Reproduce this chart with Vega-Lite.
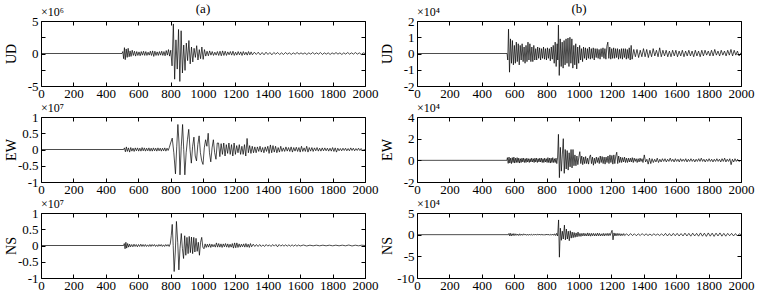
{
"$schema":"https://vega.github.io/schema/vega-lite/v6.json",
"background":"white",
"padding":{"left":4,"top":3,"right":5,"bottom":2},
"config":{
"font":"Liberation Serif",
"view":{"stroke":null},
"axis":{"domainColor":"#000","domainWidth":1,"tickColor":"#000","tickSize":-4,"tickWidth":1,"labelColor":"#000","labelFont":"Liberation Serif","labelFontSize":13,"titleFont":"Liberation Serif","titleFontSize":14,"titleFontWeight":"normal","titleColor":"#000","grid":false,"labelFlush":false,"labelOverlap":false,"labelBound":false,"labelPadding":7},
"axisX":{"labelPadding":5},
"title":{"font":"Liberation Serif","fontWeight":"normal","fontSize":13,"color":"#000"},
"line":{"color":"#000","strokeWidth":0.7},
"text":{"font":"Liberation Serif","fontSize":12,"color":"#000"}
},
"datasets":{
"ua":[{"t":0,"v":0},{"t":500,"v":0},{"t":505,"v":0.3},{"t":510,"v":-0.8},{"t":515,"v":0.9},{"t":520,"v":-0.95},{"t":526,"v":0.7},{"t":532,"v":-0.6},{"t":538,"v":0.8},{"t":544,"v":-0.5},{"t":550,"v":0.4},{"t":556,"v":-0.45},{"t":563,"v":0.5},{"t":570,"v":-0.3},{"t":577,"v":0.35},{"t":584,"v":-0.4},{"t":591,"v":0.3},{"t":598,"v":-0.3},{"t":605,"v":0.25},{"t":612,"v":-0.35},{"t":619,"v":0.3},{"t":626,"v":-0.25},{"t":633,"v":0.35},{"t":640,"v":-0.3},{"t":647,"v":0.3},{"t":654,"v":-0.3},{"t":661,"v":0.2},{"t":668,"v":-0.25},{"t":675,"v":0.35},{"t":682,"v":-0.3},{"t":689,"v":0.4},{"t":696,"v":-0.45},{"t":703,"v":0.35},{"t":710,"v":-0.3},{"t":717,"v":0.25},{"t":724,"v":-0.3},{"t":731,"v":0.3},{"t":738,"v":-0.25},{"t":745,"v":0.35},{"t":752,"v":-0.3},{"t":759,"v":0.3},{"t":766,"v":-0.35},{"t":773,"v":0.45},{"t":780,"v":-0.25},{"t":787,"v":0.6},{"t":794,"v":-0.4},{"t":801,"v":0.5},{"t":809,"v":-1.9},{"t":817,"v":4.55},{"t":825,"v":-3.95},{"t":833,"v":2.1},{"t":841,"v":-2.4},{"t":849,"v":3.7},{"t":857,"v":-4.3},{"t":865,"v":3.5},{"t":873,"v":-3.0},{"t":881,"v":1.3},{"t":889,"v":-2.6},{"t":897,"v":1.6},{"t":905,"v":-1.1},{"t":913,"v":2.0},{"t":921,"v":-1.6},{"t":929,"v":1.0},{"t":937,"v":-1.3},{"t":945,"v":0.8},{"t":953,"v":-0.6},{"t":961,"v":1.2},{"t":969,"v":-1.0},{"t":977,"v":0.6},{"t":985,"v":-0.8},{"t":993,"v":1.0},{"t":1001,"v":-0.9},{"t":1009,"v":0.6},{"t":1017,"v":-0.4},{"t":1025,"v":0.35},{"t":1033,"v":-0.35},{"t":1041,"v":0.4},{"t":1049,"v":-0.25},{"t":1057,"v":0.3},{"t":1065,"v":-0.3},{"t":1073,"v":0.2},{"t":1081,"v":-0.25},{"t":1089,"v":0.3},{"t":1097,"v":-0.3},{"t":1105,"v":0.35},{"t":1113,"v":-0.35},{"t":1121,"v":0.4},{"t":1129,"v":-0.3},{"t":1137,"v":0.35},{"t":1145,"v":-0.3},{"t":1153,"v":0.25},{"t":1161,"v":-0.2},{"t":1169,"v":0.3},{"t":1177,"v":-0.25},{"t":1185,"v":0.35},{"t":1193,"v":-0.3},{"t":1201,"v":0.2},{"t":1209,"v":-0.25},{"t":1217,"v":0.3},{"t":1225,"v":-0.2},{"t":1233,"v":0.25},{"t":1241,"v":-0.3},{"t":1249,"v":0.3},{"t":1257,"v":-0.2},{"t":1265,"v":0.2},{"t":1273,"v":-0.25},{"t":1281,"v":0.3},{"t":1289,"v":-0.2},{"t":1297,"v":0.25},{"t":1305,"v":-0.2},{"t":1317,"v":0.2},{"t":1329,"v":-0.15},{"t":1341,"v":0.2},{"t":1353,"v":-0.2},{"t":1365,"v":0.15},{"t":1377,"v":-0.2},{"t":1389,"v":0.2},{"t":1401,"v":-0.15},{"t":1413,"v":0.15},{"t":1425,"v":-0.2},{"t":1437,"v":0.15},{"t":1449,"v":-0.1},{"t":1461,"v":0.15},{"t":1473,"v":-0.15},{"t":1485,"v":0.1},{"t":1497,"v":-0.15},{"t":1509,"v":0.15},{"t":1521,"v":-0.1},{"t":1533,"v":0.1},{"t":1545,"v":-0.15},{"t":1557,"v":0.1},{"t":1569,"v":-0.1},{"t":1581,"v":0.15},{"t":1593,"v":-0.1},{"t":1605,"v":0.1},{"t":1617,"v":-0.1},{"t":1629,"v":0.1},{"t":1641,"v":-0.15},{"t":1653,"v":0.1},{"t":1665,"v":-0.1},{"t":1677,"v":0.15},{"t":1689,"v":-0.1},{"t":1701,"v":0.1},{"t":1713,"v":-0.1},{"t":1725,"v":0.15},{"t":1737,"v":-0.15},{"t":1749,"v":0.1},{"t":1761,"v":-0.1},{"t":1773,"v":0.1},{"t":1785,"v":-0.15},{"t":1797,"v":0.1},{"t":1809,"v":-0.1},{"t":1821,"v":0.15},{"t":1833,"v":-0.1},{"t":1845,"v":0.1},{"t":1857,"v":-0.15},{"t":1869,"v":0.1},{"t":1881,"v":-0.1},{"t":1893,"v":0.15},{"t":1905,"v":-0.1},{"t":1917,"v":0.1},{"t":1929,"v":-0.1},{"t":1941,"v":0.15},{"t":1953,"v":-0.1},{"t":1965,"v":0.1},{"t":1977,"v":-0.15},{"t":1989,"v":0.1},{"t":2000,"v":0}],
"ub":[{"t":0,"v":0},{"t":556,"v":0},{"t":560,"v":-0.4},{"t":565,"v":1.5},{"t":571,"v":-1.15},{"t":577,"v":0.9},{"t":583,"v":-0.6},{"t":589,"v":0.8},{"t":595,"v":-0.7},{"t":601,"v":0.5},{"t":607,"v":-0.6},{"t":613,"v":0.7},{"t":619,"v":-0.5},{"t":625,"v":0.6},{"t":631,"v":-0.7},{"t":637,"v":0.5},{"t":643,"v":-0.4},{"t":649,"v":0.6},{"t":655,"v":-0.5},{"t":661,"v":0.4},{"t":667,"v":-0.6},{"t":673,"v":0.5},{"t":679,"v":-0.5},{"t":685,"v":0.7},{"t":691,"v":-0.4},{"t":697,"v":0.6},{"t":703,"v":-0.5},{"t":709,"v":0.4},{"t":715,"v":-0.5},{"t":721,"v":0.5},{"t":727,"v":-0.4},{"t":733,"v":0.3},{"t":739,"v":-0.4},{"t":745,"v":0.4},{"t":751,"v":-0.3},{"t":757,"v":0.35},{"t":763,"v":-0.4},{"t":769,"v":0.3},{"t":775,"v":-0.3},{"t":781,"v":0.4},{"t":787,"v":-0.35},{"t":793,"v":0.3},{"t":799,"v":-0.4},{"t":805,"v":0.35},{"t":811,"v":-0.3},{"t":817,"v":0.3},{"t":823,"v":-0.45},{"t":829,"v":0.4},{"t":835,"v":-0.35},{"t":841,"v":0.5},{"t":847,"v":-0.6},{"t":853,"v":0.7},{"t":859,"v":-0.8},{"t":865,"v":0.6},{"t":869,"v":-0.4},{"t":873,"v":1.75},{"t":878,"v":-1.35},{"t":884,"v":0.9},{"t":890,"v":-0.8},{"t":896,"v":0.7},{"t":902,"v":-0.9},{"t":908,"v":0.8},{"t":914,"v":-0.7},{"t":920,"v":0.9},{"t":926,"v":-0.6},{"t":932,"v":0.95},{"t":938,"v":-0.8},{"t":944,"v":1.0},{"t":950,"v":-0.6},{"t":956,"v":0.9},{"t":962,"v":-0.9},{"t":968,"v":0.5},{"t":974,"v":-0.7},{"t":980,"v":0.6},{"t":986,"v":-0.95},{"t":992,"v":0.4},{"t":998,"v":-0.6},{"t":1004,"v":0.5},{"t":1010,"v":-0.4},{"t":1016,"v":0.3},{"t":1022,"v":-0.5},{"t":1028,"v":0.4},{"t":1034,"v":-0.3},{"t":1040,"v":0.35},{"t":1046,"v":-0.4},{"t":1052,"v":0.3},{"t":1058,"v":-0.3},{"t":1064,"v":0.4},{"t":1070,"v":-0.35},{"t":1076,"v":0.3},{"t":1082,"v":-0.3},{"t":1088,"v":0.35},{"t":1094,"v":-0.4},{"t":1100,"v":0.3},{"t":1106,"v":-0.25},{"t":1112,"v":0.3},{"t":1118,"v":-0.3},{"t":1124,"v":0.25},{"t":1130,"v":-0.35},{"t":1136,"v":0.3},{"t":1142,"v":-0.2},{"t":1148,"v":0.35},{"t":1154,"v":-0.3},{"t":1160,"v":0.3},{"t":1166,"v":-0.35},{"t":1172,"v":0.45},{"t":1178,"v":0.7},{"t":1184,"v":-0.3},{"t":1190,"v":0.4},{"t":1196,"v":-0.35},{"t":1202,"v":0.3},{"t":1208,"v":-0.3},{"t":1214,"v":0.35},{"t":1220,"v":-0.3},{"t":1226,"v":0.3},{"t":1232,"v":-0.25},{"t":1238,"v":0.3},{"t":1244,"v":-0.35},{"t":1250,"v":0.25},{"t":1256,"v":-0.3},{"t":1262,"v":0.3},{"t":1268,"v":-0.35},{"t":1274,"v":0.3},{"t":1280,"v":-0.25},{"t":1286,"v":0.3},{"t":1292,"v":-0.35},{"t":1298,"v":0.25},{"t":1304,"v":-0.3},{"t":1310,"v":0.35},{"t":1316,"v":-0.4},{"t":1322,"v":0.5},{"t":1328,"v":-0.35},{"t":1338,"v":0.25},{"t":1348,"v":-0.2},{"t":1358,"v":0.25},{"t":1368,"v":-0.25},{"t":1378,"v":0.2},{"t":1388,"v":-0.2},{"t":1398,"v":0.3},{"t":1408,"v":-0.2},{"t":1418,"v":0.25},{"t":1428,"v":-0.25},{"t":1438,"v":0.2},{"t":1448,"v":-0.2},{"t":1458,"v":0.3},{"t":1468,"v":-0.15},{"t":1478,"v":0.2},{"t":1488,"v":-0.2},{"t":1498,"v":0.35},{"t":1508,"v":-0.2},{"t":1518,"v":0.2},{"t":1528,"v":-0.15},{"t":1538,"v":0.2},{"t":1548,"v":-0.2},{"t":1558,"v":0.15},{"t":1568,"v":-0.2},{"t":1578,"v":0.2},{"t":1588,"v":-0.15},{"t":1598,"v":0.2},{"t":1608,"v":-0.2},{"t":1618,"v":0.15},{"t":1628,"v":-0.15},{"t":1638,"v":0.2},{"t":1648,"v":-0.2},{"t":1658,"v":0.15},{"t":1668,"v":-0.15},{"t":1678,"v":0.2},{"t":1688,"v":-0.15},{"t":1698,"v":0.15},{"t":1708,"v":-0.2},{"t":1718,"v":0.2},{"t":1728,"v":-0.15},{"t":1738,"v":0.15},{"t":1748,"v":-0.2},{"t":1758,"v":0.2},{"t":1768,"v":-0.15},{"t":1778,"v":0.2},{"t":1788,"v":-0.1},{"t":1798,"v":0.15},{"t":1808,"v":-0.15},{"t":1818,"v":0.2},{"t":1828,"v":-0.15},{"t":1838,"v":0.25},{"t":1848,"v":-0.1},{"t":1858,"v":0.15},{"t":1868,"v":-0.15},{"t":1878,"v":0.2},{"t":1888,"v":-0.1},{"t":1898,"v":0.15},{"t":1908,"v":-0.15},{"t":1918,"v":0.2},{"t":1928,"v":-0.1},{"t":1938,"v":0.25},{"t":1948,"v":-0.15},{"t":1958,"v":0.2},{"t":1968,"v":-0.1},{"t":1978,"v":0.15},{"t":1988,"v":-0.15},{"t":2000,"v":0.05}],
"ea":[{"t":0,"v":0},{"t":510,"v":0},{"t":515,"v":0.05},{"t":521,"v":-0.07},{"t":527,"v":0.08},{"t":533,"v":-0.06},{"t":540,"v":0.05},{"t":547,"v":-0.08},{"t":554,"v":0.06},{"t":561,"v":-0.05},{"t":568,"v":0.04},{"t":575,"v":-0.06},{"t":582,"v":0.05},{"t":589,"v":-0.04},{"t":596,"v":0.05},{"t":603,"v":-0.05},{"t":610,"v":0.04},{"t":617,"v":-0.05},{"t":624,"v":0.06},{"t":631,"v":-0.04},{"t":638,"v":0.05},{"t":645,"v":-0.05},{"t":652,"v":0.04},{"t":659,"v":-0.04},{"t":666,"v":0.05},{"t":673,"v":-0.05},{"t":680,"v":0.04},{"t":687,"v":-0.05},{"t":694,"v":0.05},{"t":701,"v":-0.04},{"t":708,"v":0.04},{"t":715,"v":-0.05},{"t":722,"v":0.05},{"t":729,"v":-0.04},{"t":736,"v":0.04},{"t":743,"v":-0.05},{"t":750,"v":0.04},{"t":757,"v":-0.04},{"t":764,"v":0.05},{"t":771,"v":-0.05},{"t":778,"v":0.04},{"t":785,"v":-0.03},{"t":792,"v":0.06},{"t":800,"v":0.2},{"t":810,"v":0.35},{"t":820,"v":-0.1},{"t":830,"v":-0.75},{"t":838,"v":0.1},{"t":845,"v":0.77},{"t":852,"v":0.2},{"t":858,"v":-0.78},{"t":866,"v":0.1},{"t":874,"v":0.77},{"t":881,"v":0.0},{"t":888,"v":-0.78},{"t":896,"v":-0.1},{"t":904,"v":0.3},{"t":912,"v":0.62},{"t":920,"v":0.0},{"t":928,"v":-0.42},{"t":936,"v":0.1},{"t":944,"v":0.38},{"t":952,"v":-0.2},{"t":960,"v":-0.35},{"t":968,"v":0.15},{"t":976,"v":0.42},{"t":984,"v":-0.1},{"t":992,"v":-0.35},{"t":1000,"v":-0.46},{"t":1008,"v":0.05},{"t":1016,"v":0.3},{"t":1024,"v":0.1},{"t":1032,"v":0.5},{"t":1040,"v":-0.1},{"t":1048,"v":-0.38},{"t":1056,"v":0.05},{"t":1064,"v":0.3},{"t":1072,"v":-0.1},{"t":1080,"v":-0.3},{"t":1088,"v":0.2},{"t":1096,"v":0.2},{"t":1104,"v":-0.22},{"t":1112,"v":0.18},{"t":1120,"v":-0.15},{"t":1128,"v":0.2},{"t":1136,"v":-0.2},{"t":1144,"v":0.15},{"t":1152,"v":-0.12},{"t":1160,"v":0.2},{"t":1168,"v":-0.15},{"t":1176,"v":0.15},{"t":1184,"v":-0.2},{"t":1192,"v":0.2},{"t":1200,"v":-0.15},{"t":1208,"v":0.12},{"t":1216,"v":-0.1},{"t":1224,"v":0.15},{"t":1232,"v":-0.15},{"t":1240,"v":0.1},{"t":1248,"v":-0.15},{"t":1256,"v":0.15},{"t":1264,"v":-0.2},{"t":1272,"v":0.34},{"t":1280,"v":-0.1},{"t":1288,"v":0.12},{"t":1296,"v":-0.12},{"t":1304,"v":0.1},{"t":1312,"v":-0.1},{"t":1320,"v":0.08},{"t":1328,"v":-0.1},{"t":1336,"v":0.08},{"t":1344,"v":-0.06},{"t":1352,"v":0.1},{"t":1360,"v":-0.08},{"t":1368,"v":0.06},{"t":1376,"v":-0.1},{"t":1384,"v":0.08},{"t":1392,"v":-0.06},{"t":1400,"v":0.1},{"t":1408,"v":-0.12},{"t":1416,"v":0.14},{"t":1424,"v":-0.1},{"t":1432,"v":0.12},{"t":1440,"v":-0.08},{"t":1448,"v":0.1},{"t":1456,"v":-0.1},{"t":1464,"v":0.06},{"t":1472,"v":-0.08},{"t":1480,"v":0.1},{"t":1488,"v":-0.06},{"t":1496,"v":0.05},{"t":1504,"v":-0.06},{"t":1512,"v":0.08},{"t":1520,"v":-0.05},{"t":1528,"v":0.06},{"t":1536,"v":-0.06},{"t":1544,"v":0.08},{"t":1552,"v":-0.08},{"t":1560,"v":0.06},{"t":1568,"v":-0.05},{"t":1576,"v":0.07},{"t":1584,"v":-0.06},{"t":1592,"v":0.06},{"t":1600,"v":-0.08},{"t":1608,"v":0.1},{"t":1616,"v":-0.06},{"t":1624,"v":0.05},{"t":1632,"v":-0.06},{"t":1640,"v":0.1},{"t":1648,"v":-0.08},{"t":1656,"v":0.06},{"t":1664,"v":-0.05},{"t":1672,"v":0.06},{"t":1680,"v":-0.06},{"t":1688,"v":0.05},{"t":1696,"v":-0.04},{"t":1704,"v":0.06},{"t":1712,"v":-0.05},{"t":1720,"v":0.04},{"t":1728,"v":-0.05},{"t":1736,"v":0.05},{"t":1744,"v":-0.04},{"t":1752,"v":0.05},{"t":1760,"v":-0.04},{"t":1768,"v":0.04},{"t":1776,"v":-0.05},{"t":1784,"v":0.04},{"t":1792,"v":-0.05},{"t":1800,"v":0.06},{"t":1808,"v":-0.06},{"t":1816,"v":0.05},{"t":1824,"v":-0.08},{"t":1832,"v":0.04},{"t":1840,"v":-0.04},{"t":1848,"v":0.03},{"t":1856,"v":-0.04},{"t":1864,"v":0.04},{"t":1872,"v":-0.03},{"t":1880,"v":0.04},{"t":1888,"v":-0.04},{"t":1896,"v":0.03},{"t":1904,"v":-0.04},{"t":1912,"v":0.05},{"t":1920,"v":-0.03},{"t":1928,"v":0.04},{"t":1936,"v":-0.04},{"t":1944,"v":0.03},{"t":1952,"v":-0.03},{"t":1960,"v":0.04},{"t":1968,"v":-0.03},{"t":1976,"v":0.03},{"t":1984,"v":-0.03},{"t":2000,"v":0}],
"eb":[{"t":0,"v":0},{"t":555,"v":0},{"t":558,"v":0.25},{"t":563,"v":-0.28},{"t":568,"v":0.3},{"t":573,"v":-0.25},{"t":578,"v":0.2},{"t":583,"v":-0.3},{"t":588,"v":0.25},{"t":593,"v":-0.2},{"t":598,"v":0.3},{"t":603,"v":-0.25},{"t":608,"v":0.2},{"t":613,"v":-0.2},{"t":618,"v":0.25},{"t":623,"v":-0.2},{"t":628,"v":0.2},{"t":633,"v":-0.25},{"t":638,"v":0.15},{"t":643,"v":-0.2},{"t":648,"v":0.2},{"t":653,"v":-0.15},{"t":658,"v":0.2},{"t":663,"v":-0.2},{"t":668,"v":0.15},{"t":673,"v":-0.2},{"t":678,"v":0.2},{"t":683,"v":-0.15},{"t":688,"v":0.15},{"t":693,"v":-0.2},{"t":698,"v":0.15},{"t":703,"v":-0.15},{"t":708,"v":0.2},{"t":713,"v":-0.15},{"t":718,"v":0.15},{"t":723,"v":-0.2},{"t":728,"v":0.2},{"t":733,"v":-0.15},{"t":738,"v":0.2},{"t":743,"v":-0.2},{"t":748,"v":0.15},{"t":753,"v":-0.15},{"t":758,"v":0.2},{"t":763,"v":-0.15},{"t":768,"v":0.2},{"t":773,"v":-0.2},{"t":778,"v":0.15},{"t":783,"v":-0.2},{"t":788,"v":0.2},{"t":793,"v":-0.15},{"t":798,"v":0.15},{"t":803,"v":-0.2},{"t":808,"v":0.25},{"t":813,"v":-0.2},{"t":818,"v":0.2},{"t":823,"v":-0.25},{"t":828,"v":0.2},{"t":833,"v":-0.2},{"t":838,"v":0.25},{"t":843,"v":-0.2},{"t":848,"v":0.15},{"t":853,"v":-0.2},{"t":858,"v":0.2},{"t":863,"v":-0.3},{"t":868,"v":0.3},{"t":873,"v":2.4},{"t":879,"v":-1.6},{"t":885,"v":1.2},{"t":891,"v":-1.0},{"t":897,"v":0.5},{"t":903,"v":2.0},{"t":909,"v":-1.2},{"t":915,"v":1.0},{"t":921,"v":-0.8},{"t":927,"v":0.9},{"t":933,"v":-0.9},{"t":939,"v":0.7},{"t":945,"v":-0.6},{"t":951,"v":1.0},{"t":957,"v":-0.7},{"t":963,"v":1.0},{"t":969,"v":-0.5},{"t":975,"v":0.5},{"t":981,"v":-0.5},{"t":987,"v":0.4},{"t":993,"v":-0.4},{"t":999,"v":0.3},{"t":1005,"v":0.8},{"t":1011,"v":-0.3},{"t":1017,"v":0.4},{"t":1023,"v":-0.4},{"t":1029,"v":0.3},{"t":1035,"v":-0.3},{"t":1041,"v":0.35},{"t":1047,"v":-0.3},{"t":1053,"v":0.2},{"t":1059,"v":-0.35},{"t":1065,"v":0.3},{"t":1071,"v":0.5},{"t":1077,"v":-0.3},{"t":1083,"v":0.3},{"t":1089,"v":-0.45},{"t":1095,"v":0.2},{"t":1101,"v":-0.3},{"t":1107,"v":0.3},{"t":1113,"v":-0.2},{"t":1119,"v":0.25},{"t":1125,"v":-0.3},{"t":1131,"v":0.4},{"t":1137,"v":-0.2},{"t":1143,"v":0.35},{"t":1149,"v":-0.3},{"t":1155,"v":0.3},{"t":1161,"v":-0.35},{"t":1167,"v":0.3},{"t":1173,"v":-0.2},{"t":1179,"v":0.4},{"t":1185,"v":-0.3},{"t":1191,"v":0.5},{"t":1197,"v":-0.2},{"t":1203,"v":0.45},{"t":1209,"v":-0.35},{"t":1215,"v":0.5},{"t":1221,"v":-0.3},{"t":1227,"v":0.4},{"t":1233,"v":0.75},{"t":1239,"v":-0.3},{"t":1245,"v":0.4},{"t":1251,"v":-0.2},{"t":1257,"v":0.3},{"t":1263,"v":-0.2},{"t":1269,"v":0.25},{"t":1275,"v":-0.15},{"t":1281,"v":0.3},{"t":1287,"v":-0.2},{"t":1293,"v":0.2},{"t":1299,"v":-0.2},{"t":1305,"v":0.2},{"t":1311,"v":-0.15},{"t":1317,"v":0.2},{"t":1323,"v":-0.15},{"t":1329,"v":0.25},{"t":1335,"v":-0.2},{"t":1341,"v":0.2},{"t":1347,"v":-0.1},{"t":1353,"v":0.15},{"t":1359,"v":-0.2},{"t":1365,"v":0.15},{"t":1371,"v":-0.15},{"t":1377,"v":0.2},{"t":1383,"v":-0.1},{"t":1389,"v":0.15},{"t":1395,"v":-0.2},{"t":1403,"v":0.5},{"t":1411,"v":-0.15},{"t":1419,"v":0.1},{"t":1427,"v":-0.35},{"t":1435,"v":0.2},{"t":1443,"v":-0.3},{"t":1451,"v":0.15},{"t":1459,"v":-0.2},{"t":1467,"v":0.1},{"t":1475,"v":-0.15},{"t":1483,"v":0.2},{"t":1491,"v":-0.2},{"t":1499,"v":0.1},{"t":1507,"v":-0.15},{"t":1515,"v":0.15},{"t":1523,"v":-0.1},{"t":1531,"v":0.15},{"t":1539,"v":-0.15},{"t":1547,"v":0.1},{"t":1555,"v":-0.1},{"t":1563,"v":0.2},{"t":1571,"v":-0.1},{"t":1579,"v":0.1},{"t":1587,"v":-0.15},{"t":1595,"v":0.15},{"t":1603,"v":-0.1},{"t":1611,"v":0.1},{"t":1619,"v":-0.15},{"t":1627,"v":0.15},{"t":1635,"v":-0.1},{"t":1643,"v":0.1},{"t":1651,"v":-0.1},{"t":1659,"v":0.15},{"t":1667,"v":-0.15},{"t":1675,"v":0.1},{"t":1683,"v":-0.1},{"t":1691,"v":0.15},{"t":1699,"v":-0.1},{"t":1707,"v":0.1},{"t":1715,"v":-0.15},{"t":1723,"v":0.1},{"t":1731,"v":-0.1},{"t":1739,"v":0.15},{"t":1747,"v":-0.1},{"t":1755,"v":0.2},{"t":1763,"v":-0.1},{"t":1771,"v":0.1},{"t":1779,"v":-0.15},{"t":1787,"v":0.1},{"t":1795,"v":-0.1},{"t":1803,"v":0.15},{"t":1811,"v":-0.1},{"t":1819,"v":0.1},{"t":1827,"v":-0.15},{"t":1835,"v":0.1},{"t":1843,"v":-0.1},{"t":1851,"v":0.15},{"t":1859,"v":-0.1},{"t":1867,"v":0.1},{"t":1875,"v":-0.15},{"t":1883,"v":0.15},{"t":1891,"v":-0.1},{"t":1899,"v":0.2},{"t":1907,"v":-0.15},{"t":1915,"v":0.1},{"t":1923,"v":-0.1},{"t":1931,"v":0.15},{"t":1939,"v":-0.4},{"t":1947,"v":0.1},{"t":1955,"v":-0.15},{"t":1963,"v":0.15},{"t":1971,"v":-0.1},{"t":1979,"v":0.1},{"t":1987,"v":-0.1},{"t":2000,"v":0}],
"na":[{"t":0,"v":0},{"t":510,"v":0},{"t":514,"v":0.06},{"t":519,"v":-0.1},{"t":524,"v":0.1},{"t":529,"v":-0.08},{"t":535,"v":0.06},{"t":541,"v":-0.05},{"t":547,"v":0.04},{"t":553,"v":-0.04},{"t":560,"v":0.03},{"t":567,"v":-0.04},{"t":574,"v":0.04},{"t":581,"v":-0.03},{"t":588,"v":0.03},{"t":595,"v":-0.04},{"t":602,"v":0.03},{"t":609,"v":-0.03},{"t":616,"v":0.04},{"t":623,"v":-0.03},{"t":630,"v":0.03},{"t":637,"v":-0.03},{"t":644,"v":0.03},{"t":651,"v":-0.03},{"t":658,"v":0.02},{"t":665,"v":-0.03},{"t":672,"v":0.03},{"t":679,"v":-0.03},{"t":686,"v":0.03},{"t":693,"v":-0.02},{"t":700,"v":0.03},{"t":707,"v":-0.03},{"t":714,"v":0.02},{"t":721,"v":-0.03},{"t":728,"v":0.03},{"t":735,"v":-0.02},{"t":742,"v":0.03},{"t":749,"v":-0.03},{"t":756,"v":0.02},{"t":763,"v":-0.03},{"t":770,"v":0.03},{"t":777,"v":-0.02},{"t":784,"v":0.03},{"t":791,"v":-0.03},{"t":798,"v":0.05},{"t":804,"v":0.3},{"t":810,"v":0.65},{"t":816,"v":0.0},{"t":822,"v":-0.8},{"t":829,"v":-0.2},{"t":836,"v":0.74},{"t":844,"v":0.1},{"t":851,"v":-0.75},{"t":858,"v":-0.1},{"t":866,"v":0.37},{"t":873,"v":-0.1},{"t":880,"v":-0.4},{"t":887,"v":0.3},{"t":894,"v":-0.3},{"t":901,"v":0.25},{"t":908,"v":-0.25},{"t":915,"v":0.28},{"t":922,"v":-0.22},{"t":929,"v":0.26},{"t":936,"v":-0.25},{"t":943,"v":0.25},{"t":950,"v":-0.2},{"t":957,"v":0.22},{"t":964,"v":-0.18},{"t":971,"v":0.1},{"t":978,"v":-0.3},{"t":985,"v":0.1},{"t":992,"v":0.25},{"t":999,"v":-0.05},{"t":1006,"v":-0.1},{"t":1013,"v":0.05},{"t":1020,"v":-0.06},{"t":1027,"v":0.04},{"t":1034,"v":-0.05},{"t":1041,"v":0.05},{"t":1048,"v":-0.06},{"t":1055,"v":0.04},{"t":1062,"v":-0.04},{"t":1069,"v":0.03},{"t":1076,"v":-0.05},{"t":1083,"v":0.08},{"t":1090,"v":-0.05},{"t":1097,"v":0.06},{"t":1104,"v":-0.05},{"t":1111,"v":0.05},{"t":1118,"v":-0.06},{"t":1125,"v":0.05},{"t":1132,"v":-0.04},{"t":1139,"v":0.06},{"t":1146,"v":-0.05},{"t":1153,"v":0.05},{"t":1160,"v":-0.06},{"t":1167,"v":0.04},{"t":1174,"v":-0.05},{"t":1181,"v":0.06},{"t":1188,"v":-0.08},{"t":1195,"v":0.08},{"t":1202,"v":-0.07},{"t":1209,"v":0.08},{"t":1216,"v":-0.06},{"t":1223,"v":0.05},{"t":1230,"v":-0.05},{"t":1237,"v":0.04},{"t":1244,"v":-0.04},{"t":1251,"v":0.05},{"t":1258,"v":-0.05},{"t":1265,"v":0.06},{"t":1272,"v":-0.05},{"t":1279,"v":0.04},{"t":1286,"v":-0.06},{"t":1293,"v":0.06},{"t":1300,"v":-0.04},{"t":1310,"v":0.04},{"t":1320,"v":-0.03},{"t":1330,"v":0.03},{"t":1340,"v":-0.03},{"t":1350,"v":0.03},{"t":1360,"v":-0.03},{"t":1370,"v":0.02},{"t":1380,"v":-0.03},{"t":1390,"v":0.03},{"t":1400,"v":-0.02},{"t":1410,"v":0.02},{"t":1420,"v":-0.03},{"t":1430,"v":0.03},{"t":1440,"v":-0.02},{"t":1450,"v":0.03},{"t":1460,"v":-0.04},{"t":1470,"v":0.03},{"t":1480,"v":-0.02},{"t":1490,"v":0.02},{"t":1500,"v":-0.02},{"t":1510,"v":0.02},{"t":1520,"v":-0.02},{"t":1530,"v":0.02},{"t":1540,"v":-0.02},{"t":1550,"v":0.02},{"t":1560,"v":-0.02},{"t":1570,"v":0.02},{"t":1580,"v":-0.02},{"t":1590,"v":0.015},{"t":1600,"v":-0.015},{"t":1620,"v":0.015},{"t":1640,"v":-0.015},{"t":1660,"v":0.01},{"t":1680,"v":-0.01},{"t":1700,"v":0.01},{"t":1720,"v":-0.01},{"t":1740,"v":0.01},{"t":1760,"v":-0.01},{"t":1780,"v":0.01},{"t":1800,"v":-0.01},{"t":1820,"v":0.01},{"t":1840,"v":-0.01},{"t":1860,"v":0.01},{"t":1880,"v":-0.01},{"t":1900,"v":0.015},{"t":1920,"v":-0.015},{"t":1940,"v":0.01},{"t":1960,"v":-0.01},{"t":1980,"v":0.01},{"t":2000,"v":0}],
"nb":[{"t":0,"v":0},{"t":565,"v":0},{"t":568,"v":0.3},{"t":573,"v":-0.3},{"t":578,"v":0.3},{"t":583,"v":-0.25},{"t":588,"v":0.2},{"t":593,"v":-0.2},{"t":598,"v":0.25},{"t":604,"v":-0.2},{"t":610,"v":0.2},{"t":616,"v":-0.15},{"t":622,"v":0.15},{"t":628,"v":-0.2},{"t":634,"v":0.2},{"t":640,"v":-0.15},{"t":646,"v":0.15},{"t":652,"v":-0.15},{"t":658,"v":0.2},{"t":664,"v":-0.1},{"t":670,"v":0.15},{"t":676,"v":-0.15},{"t":682,"v":0.1},{"t":688,"v":-0.15},{"t":694,"v":0.15},{"t":700,"v":-0.1},{"t":706,"v":0.1},{"t":712,"v":-0.15},{"t":718,"v":0.1},{"t":724,"v":-0.1},{"t":730,"v":0.15},{"t":736,"v":-0.1},{"t":742,"v":0.1},{"t":748,"v":-0.1},{"t":754,"v":0.15},{"t":760,"v":-0.1},{"t":766,"v":0.1},{"t":772,"v":-0.1},{"t":778,"v":0.1},{"t":784,"v":-0.15},{"t":790,"v":0.1},{"t":796,"v":-0.1},{"t":802,"v":0.15},{"t":808,"v":-0.1},{"t":814,"v":0.1},{"t":820,"v":-0.15},{"t":826,"v":0.1},{"t":832,"v":-0.1},{"t":838,"v":0.15},{"t":844,"v":-0.15},{"t":850,"v":0.2},{"t":856,"v":-0.2},{"t":862,"v":0.3},{"t":868,"v":-0.3},{"t":874,"v":3.4},{"t":879,"v":-5.2},{"t":885,"v":1.5},{"t":891,"v":-1.3},{"t":897,"v":0.8},{"t":903,"v":-1.0},{"t":910,"v":2.2},{"t":916,"v":-1.2},{"t":922,"v":1.3},{"t":928,"v":-1.0},{"t":934,"v":0.8},{"t":940,"v":-1.4},{"t":946,"v":0.9},{"t":952,"v":-0.8},{"t":958,"v":0.6},{"t":964,"v":-0.7},{"t":970,"v":0.5},{"t":976,"v":-0.6},{"t":982,"v":0.4},{"t":988,"v":-0.5},{"t":994,"v":0.6},{"t":1000,"v":-0.4},{"t":1006,"v":0.3},{"t":1012,"v":-0.4},{"t":1018,"v":0.3},{"t":1024,"v":-0.3},{"t":1030,"v":0.35},{"t":1036,"v":-0.3},{"t":1042,"v":0.25},{"t":1048,"v":-0.3},{"t":1054,"v":0.4},{"t":1060,"v":-0.3},{"t":1066,"v":0.3},{"t":1072,"v":-0.35},{"t":1078,"v":0.3},{"t":1084,"v":-0.25},{"t":1090,"v":0.3},{"t":1096,"v":-0.3},{"t":1102,"v":0.25},{"t":1108,"v":-0.3},{"t":1114,"v":0.35},{"t":1120,"v":-0.25},{"t":1126,"v":0.3},{"t":1132,"v":-0.3},{"t":1138,"v":0.2},{"t":1144,"v":-0.25},{"t":1150,"v":0.3},{"t":1156,"v":-0.3},{"t":1162,"v":0.25},{"t":1168,"v":-0.2},{"t":1174,"v":0.3},{"t":1180,"v":-0.25},{"t":1186,"v":0.3},{"t":1192,"v":-0.2},{"t":1198,"v":0.4},{"t":1204,"v":1.0},{"t":1210,"v":-1.2},{"t":1216,"v":0.4},{"t":1222,"v":-0.3},{"t":1228,"v":0.3},{"t":1234,"v":-0.25},{"t":1240,"v":0.3},{"t":1246,"v":-0.2},{"t":1252,"v":0.25},{"t":1258,"v":-0.25},{"t":1264,"v":0.2},{"t":1270,"v":-0.2},{"t":1276,"v":0.25},{"t":1282,"v":-0.2},{"t":1294,"v":0.2},{"t":1306,"v":-0.25},{"t":1318,"v":0.25},{"t":1330,"v":-0.2},{"t":1342,"v":0.2},{"t":1354,"v":-0.25},{"t":1366,"v":0.2},{"t":1378,"v":-0.2},{"t":1390,"v":0.25},{"t":1402,"v":-0.2},{"t":1414,"v":0.2},{"t":1426,"v":-0.2},{"t":1438,"v":0.15},{"t":1450,"v":-0.2},{"t":1462,"v":0.2},{"t":1474,"v":-0.15},{"t":1486,"v":0.15},{"t":1498,"v":-0.2},{"t":1510,"v":0.2},{"t":1522,"v":-0.25},{"t":1534,"v":0.3},{"t":1546,"v":-0.3},{"t":1558,"v":0.25},{"t":1570,"v":-0.3},{"t":1582,"v":0.3},{"t":1594,"v":-0.25},{"t":1606,"v":0.3},{"t":1618,"v":-0.3},{"t":1630,"v":0.25},{"t":1642,"v":-0.3},{"t":1654,"v":0.35},{"t":1666,"v":-0.3},{"t":1678,"v":0.3},{"t":1690,"v":-0.35},{"t":1702,"v":0.35},{"t":1714,"v":-0.3},{"t":1726,"v":0.3},{"t":1738,"v":-0.35},{"t":1750,"v":0.4},{"t":1762,"v":-0.35},{"t":1774,"v":0.35},{"t":1786,"v":-0.4},{"t":1798,"v":0.4},{"t":1810,"v":-0.35},{"t":1822,"v":0.35},{"t":1834,"v":-0.4},{"t":1846,"v":0.35},{"t":1858,"v":-0.3},{"t":1870,"v":0.4},{"t":1882,"v":-0.35},{"t":1894,"v":0.3},{"t":1906,"v":-0.35},{"t":1918,"v":0.3},{"t":1930,"v":-0.25},{"t":1942,"v":0.3},{"t":1954,"v":-0.3},{"t":1966,"v":0.25},{"t":1978,"v":-0.3},{"t":1990,"v":0.2},{"t":2000,"v":0}]
},
"bounds":"flush",
"columns":2,
"spacing":{"row":31,"column":52},
"concat":[
{"width":324,"height":65,"title":{"text":"(a)","offset":-10},
"layer":[
{"data":{"name":"ua"},"mark":{"type":"line","clip":true},"encoding":{
"x":{"field":"t","type":"quantitative","scale":{"domain":[0,2000],"nice":false},"axis":{"title":null,"values":[0,200,400,600,800,1000,1200,1400,1600,1800,2000],"labelExpr":"''+datum.value"}},
"y":{"field":"v","type":"quantitative","scale":{"domain":[-5,5],"nice":false},"axis":{"title":"UD","titleX":-23,"values":[-5,-2.5,0,2.5,5],"labelExpr":"abs(datum.value)==2.5?'':''+datum.value"}}}},
{"data":{"name":"ua"},"mark":{"type":"line","opacity":0},"encoding":{
"x":{"field":"t","type":"quantitative","axis":{"orient":"top","title":null,"labels":false,"values":[0,200,400,600,800,1000,1200,1400,1600,1800,2000]}},
"y":{"field":"v","type":"quantitative","axis":{"orient":"right","title":null,"labels":false,"values":[-5,-2.5,0,2.5,5]}}}},
{"data":{"values":[{"s":"×10⁶"}]},"mark":{"type":"text","align":"left","baseline":"bottom","dy":-2},"encoding":{
"x":{"datum":0,"type":"quantitative","axis":null},"y":{"datum":5,"type":"quantitative","axis":null},"text":{"field":"s"}}}
],"resolve":{"axis":{"x":"independent","y":"independent"}}},
{"width":324,"height":65,"title":{"text":"(b)","offset":-10},
"layer":[
{"data":{"name":"ub"},"mark":{"type":"line","clip":true},"encoding":{
"x":{"field":"t","type":"quantitative","scale":{"domain":[0,2000],"nice":false},"axis":{"title":null,"values":[0,200,400,600,800,1000,1200,1400,1600,1800,2000],"labelExpr":"''+datum.value"}},
"y":{"field":"v","type":"quantitative","scale":{"domain":[-2,2],"nice":false},"axis":{"title":"UD","titleX":-23,"values":[-2,-1,0,1,2],"labelExpr":"''+datum.value"}}}},
{"data":{"name":"ub"},"mark":{"type":"line","opacity":0},"encoding":{
"x":{"field":"t","type":"quantitative","axis":{"orient":"top","title":null,"labels":false,"values":[0,200,400,600,800,1000,1200,1400,1600,1800,2000]}},
"y":{"field":"v","type":"quantitative","axis":{"orient":"right","title":null,"labels":false,"values":[-2,-1,0,1,2]}}}},
{"data":{"values":[{"s":"×10⁴"}]},"mark":{"type":"text","align":"left","baseline":"bottom","dy":-2},"encoding":{
"x":{"datum":0,"type":"quantitative","axis":null},"y":{"datum":2,"type":"quantitative","axis":null},"text":{"field":"s"}}}
],"resolve":{"axis":{"x":"independent","y":"independent"}}},
{"width":324,"height":65,
"layer":[
{"data":{"name":"ea"},"mark":{"type":"line","clip":true},"encoding":{
"x":{"field":"t","type":"quantitative","scale":{"domain":[0,2000],"nice":false},"axis":{"title":null,"values":[0,200,400,600,800,1000,1200,1400,1600,1800,2000],"labelExpr":"''+datum.value"}},
"y":{"field":"v","type":"quantitative","scale":{"domain":[-1,1],"nice":false},"axis":{"title":"EW","titleX":-23,"values":[-1,-0.5,0,0.5,1],"labelExpr":"''+datum.value"}}}},
{"data":{"name":"ea"},"mark":{"type":"line","opacity":0},"encoding":{
"x":{"field":"t","type":"quantitative","axis":{"orient":"top","title":null,"labels":false,"values":[0,200,400,600,800,1000,1200,1400,1600,1800,2000]}},
"y":{"field":"v","type":"quantitative","axis":{"orient":"right","title":null,"labels":false,"values":[-1,-0.5,0,0.5,1]}}}},
{"data":{"values":[{"s":"×10⁷"}]},"mark":{"type":"text","align":"left","baseline":"bottom","dy":-2},"encoding":{
"x":{"datum":0,"type":"quantitative","axis":null},"y":{"datum":1,"type":"quantitative","axis":null},"text":{"field":"s"}}}
],"resolve":{"axis":{"x":"independent","y":"independent"}}},
{"width":324,"height":65,
"layer":[
{"data":{"name":"eb"},"mark":{"type":"line","clip":true},"encoding":{
"x":{"field":"t","type":"quantitative","scale":{"domain":[0,2000],"nice":false},"axis":{"title":null,"values":[0,200,400,600,800,1000,1200,1400,1600,1800,2000],"labelExpr":"''+datum.value"}},
"y":{"field":"v","type":"quantitative","scale":{"domain":[-2,4],"nice":false},"axis":{"title":"EW","titleX":-23,"values":[-2,0,2,4],"labelExpr":"''+datum.value"}}}},
{"data":{"name":"eb"},"mark":{"type":"line","opacity":0},"encoding":{
"x":{"field":"t","type":"quantitative","axis":{"orient":"top","title":null,"labels":false,"values":[0,200,400,600,800,1000,1200,1400,1600,1800,2000]}},
"y":{"field":"v","type":"quantitative","axis":{"orient":"right","title":null,"labels":false,"values":[-2,0,2,4]}}}},
{"data":{"values":[{"s":"×10⁴"}]},"mark":{"type":"text","align":"left","baseline":"bottom","dy":-2},"encoding":{
"x":{"datum":0,"type":"quantitative","axis":null},"y":{"datum":4,"type":"quantitative","axis":null},"text":{"field":"s"}}}
],"resolve":{"axis":{"x":"independent","y":"independent"}}},
{"width":324,"height":65,
"layer":[
{"data":{"name":"na"},"mark":{"type":"line","clip":true},"encoding":{
"x":{"field":"t","type":"quantitative","scale":{"domain":[0,2000],"nice":false},"axis":{"title":null,"values":[0,200,400,600,800,1000,1200,1400,1600,1800,2000],"labelExpr":"''+datum.value"}},
"y":{"field":"v","type":"quantitative","scale":{"domain":[-1,1],"nice":false},"axis":{"title":"NS","titleX":-23,"values":[-1,-0.5,0,0.5,1],"labelExpr":"''+datum.value"}}}},
{"data":{"name":"na"},"mark":{"type":"line","opacity":0},"encoding":{
"x":{"field":"t","type":"quantitative","axis":{"orient":"top","title":null,"labels":false,"values":[0,200,400,600,800,1000,1200,1400,1600,1800,2000]}},
"y":{"field":"v","type":"quantitative","axis":{"orient":"right","title":null,"labels":false,"values":[-1,-0.5,0,0.5,1]}}}},
{"data":{"values":[{"s":"×10⁷"}]},"mark":{"type":"text","align":"left","baseline":"bottom","dy":-2},"encoding":{
"x":{"datum":0,"type":"quantitative","axis":null},"y":{"datum":1,"type":"quantitative","axis":null},"text":{"field":"s"}}}
],"resolve":{"axis":{"x":"independent","y":"independent"}}},
{"width":324,"height":65,
"layer":[
{"data":{"name":"nb"},"mark":{"type":"line","clip":true},"encoding":{
"x":{"field":"t","type":"quantitative","scale":{"domain":[0,2000],"nice":false},"axis":{"title":null,"values":[0,200,400,600,800,1000,1200,1400,1600,1800,2000],"labelExpr":"''+datum.value"}},
"y":{"field":"v","type":"quantitative","scale":{"domain":[-10,5],"nice":false},"axis":{"title":"NS","titleX":-23,"values":[-10,-5,0,5],"labelExpr":"''+datum.value"}}}},
{"data":{"name":"nb"},"mark":{"type":"line","opacity":0},"encoding":{
"x":{"field":"t","type":"quantitative","axis":{"orient":"top","title":null,"labels":false,"values":[0,200,400,600,800,1000,1200,1400,1600,1800,2000]}},
"y":{"field":"v","type":"quantitative","axis":{"orient":"right","title":null,"labels":false,"values":[-10,-5,0,5]}}}},
{"data":{"values":[{"s":"×10⁴"}]},"mark":{"type":"text","align":"left","baseline":"bottom","dy":-2},"encoding":{
"x":{"datum":0,"type":"quantitative","axis":null},"y":{"datum":5,"type":"quantitative","axis":null},"text":{"field":"s"}}}
],"resolve":{"axis":{"x":"independent","y":"independent"}}}
]
}
